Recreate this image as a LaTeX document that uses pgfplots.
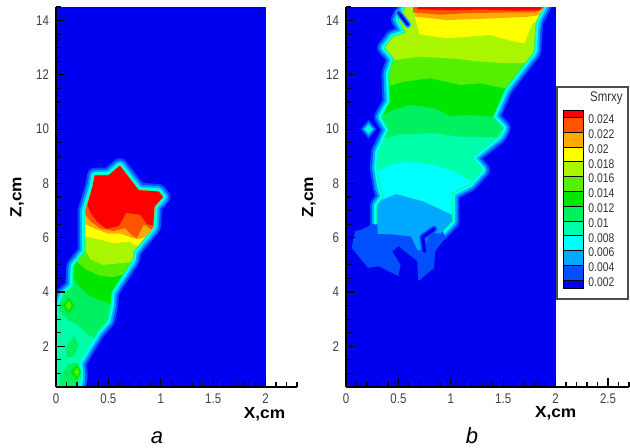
\documentclass[border=0pt]{standalone}
\usepackage{fontspec}
\setmainfont{Liberation Sans}
\newfontfamily\tickfont[FakeStretch=0.82]{Liberation Sans}
\newfontfamily\labfont[FakeStretch=1.08]{Liberation Sans}
\usepackage{pgfplots}
\pgfplotsset{compat=1.18}

% contour levels, Tecplot style rainbow
\definecolor{lv0}{HTML}{0000F0}
\definecolor{lv1}{HTML}{0050FF}
\definecolor{lv2}{HTML}{00A8FF}
\definecolor{lv3}{HTML}{00FFFF}
\definecolor{lv4}{HTML}{00FFAA}
\definecolor{lv5}{HTML}{00F060}
\definecolor{lv6}{HTML}{00E600}
\definecolor{lv7}{HTML}{55F000}
\definecolor{lv8}{HTML}{AAF500}
\definecolor{lv9}{HTML}{FFFF00}
\definecolor{lv10}{HTML}{FFAA00}
\definecolor{lv11}{HTML}{FF5500}
\definecolor{lv12}{HTML}{FF0000}

\pgfplotsset{
  panel/.style={
    x=52.4pt, y=13.57pt, xmin=0, ymin=0.5, ymax=14.5,
    axis x line*=bottom, axis y line*=left,
    axis line style={black, line width=0.8pt},
    axis on top, clip mode=individual,
    tick align=inside,
    ytick={2,4,...,14}, minor ytick={0.5,1,...,14.5},
    major tick length=4.5pt, minor tick length=2.6pt,
    tick style={black, line width=0.6pt},
    tick label style={font=\tickfont\fontsize{7}{8}\selectfont, text=black!75},
    /pgf/number format/assume math mode=true,
    label style={font=\labfont\bfseries\fontsize{8}{9}\selectfont},
    xlabel={X,cm}, ylabel={Z,cm},
  },
  band/.style={draw=#1, fill=none, line join=round, line cap=round},
  zone/.style={fill=#1, draw=none},
}

\begin{document}
\begin{tikzpicture}
\useasboundingbox (0,0) rectangle (315pt,223.5pt);

% ---------------- panel a ----------------
\begin{axis}[panel, at={(28pt,30pt)}, anchor=south west,
    xmax=2.3, xtick={0,0.5,1,1.5,2}, minor xtick={0,0.1,...,2.3},
    xlabel style={at={(axis description cs:0.865,-0.071)}, anchor=center},
    ylabel style={at={(axis description cs:-0.161,0.5)}, anchor=center}]
\addplot[zone=lv0] coordinates {(0,0.5) (2,0.5) (2,14.5) (0,14.5)} -- cycle;
% graded rim of the plume
\addplot[band=lv1, line width=7.6pt] coordinates {(0.21,0.3) (0.23,0.9) (0.22,1.4) (0.31,2.0) (0.40,2.55) (0.49,2.95) (0.52,3.5) (0.53,4.0) (0.73,5.2) (0.74,5.5) (0.93,6.4) (0.94,7.15) (1.02,7.5) (0.98,7.7) (0.79,7.75) (0.61,8.65) (0.5,8.3) (0.37,8.3) (0.35,7.9) (0.28,7.0) (0.28,5.5) (0.17,4.95) (0.16,4.2) (0.07,3.9) (0.03,3.5) (0.03,0.3)} -- cycle;
\addplot[band=lv2, line width=5.4pt] coordinates {(0.21,0.3) (0.23,0.9) (0.22,1.4) (0.31,2.0) (0.40,2.55) (0.49,2.95) (0.52,3.5) (0.53,4.0) (0.73,5.2) (0.74,5.5) (0.93,6.4) (0.94,7.15) (1.02,7.5) (0.98,7.7) (0.79,7.75) (0.61,8.65) (0.5,8.3) (0.37,8.3) (0.35,7.9) (0.28,7.0) (0.28,5.5) (0.17,4.95) (0.16,4.2) (0.07,3.9) (0.03,3.5) (0.03,0.3)} -- cycle;
\addplot[band=lv3, line width=3.2pt] coordinates {(0.21,0.3) (0.23,0.9) (0.22,1.4) (0.31,2.0) (0.40,2.55) (0.49,2.95) (0.52,3.5) (0.53,4.0) (0.73,5.2) (0.74,5.5) (0.93,6.4) (0.94,7.15) (1.02,7.5) (0.98,7.7) (0.79,7.75) (0.61,8.65) (0.5,8.3) (0.37,8.3) (0.35,7.9) (0.28,7.0) (0.28,5.5) (0.17,4.95) (0.16,4.2) (0.07,3.9) (0.03,3.5) (0.03,0.3)} -- cycle;
\addplot[band=lv4, line width=1.2pt] coordinates {(0.21,0.3) (0.23,0.9) (0.22,1.4) (0.31,2.0) (0.40,2.55) (0.49,2.95) (0.52,3.5) (0.53,4.0) (0.73,5.2) (0.74,5.5) (0.93,6.4) (0.94,7.15) (1.02,7.5) (0.98,7.7) (0.79,7.75) (0.61,8.65) (0.5,8.3) (0.37,8.3) (0.35,7.9) (0.28,7.0) (0.28,5.5) (0.17,4.95) (0.16,4.2) (0.07,3.9) (0.03,3.5) (0.03,0.3)} -- cycle;
% filled levels
\addplot[zone=lv4] coordinates {(0.21,0.3) (0.23,0.9) (0.22,1.4) (0.31,2.0) (0.40,2.55) (0.49,2.95) (0.52,3.5) (0.53,4.0) (0.73,5.2) (0.74,5.5) (0.93,6.4) (0.94,7.15) (1.02,7.5) (0.98,7.7) (0.79,7.75) (0.61,8.65) (0.5,8.3) (0.37,8.3) (0.35,7.9) (0.28,7.0) (0.28,5.5) (0.17,4.95) (0.16,4.2) (0.07,3.9) (0.03,3.5) (0.03,0.3)} -- cycle;
\addplot[zone=lv5] coordinates {(0.03,3.3) (0.12,2.95) (0.2,2.8) (0.3,2.45) (0.36,2.3) (0.40,2.55) (0.49,2.95) (0.52,3.5) (0.53,4.0) (0.73,5.2) (0.74,5.5) (0.93,6.4) (0.94,7.15) (1.02,7.5) (0.98,7.7) (0.79,7.75) (0.61,8.65) (0.5,8.3) (0.37,8.3) (0.35,7.9) (0.28,7.0) (0.28,5.5) (0.17,4.95) (0.16,4.2) (0.07,3.9) (0.03,3.5)} -- cycle;
\addplot[zone=lv5] coordinates {(0.03,0.3) (0.2,0.3) (0.22,0.9) (0.21,1.4) (0.12,1.35) (0.05,0.95)} -- cycle;
\addplot[zone=lv5] coordinates {(0.1,1.6) (0.16,1.6) (0.22,2.0) (0.17,2.4) (0.1,2.0)} -- cycle;
\addplot[zone=lv6] coordinates {(0.14,1.05) (0.2,0.75) (0.24,1.05) (0.2,1.35)} -- cycle;
\addplot[zone=lv7] coordinates {(0.17,1.05) (0.2,0.9) (0.225,1.05) (0.2,1.2)} -- cycle;
\addplot[zone=lv6] coordinates {(0.06,3.5) (0.12,3.2) (0.18,3.5) (0.12,3.8)} -- cycle;
\addplot[zone=lv7] coordinates {(0.09,3.5) (0.12,3.33) (0.15,3.5) (0.12,3.67)} -- cycle;
\addplot[zone=lv6] coordinates {(0.165,4.6) (0.2,4.3) (0.3,3.9) (0.42,3.7) (0.52,3.55) (0.53,4.0) (0.73,5.2) (0.74,5.5) (0.93,6.4) (0.94,7.15) (1.02,7.5) (0.98,7.7) (0.79,7.75) (0.61,8.65) (0.5,8.3) (0.37,8.3) (0.35,7.9) (0.28,7.0) (0.28,5.5) (0.17,4.95)} -- cycle;
\addplot[zone=lv7] coordinates {(0.2,5.1) (0.3,4.8) (0.42,4.6) (0.55,4.55) (0.64,4.65) (0.73,5.2) (0.74,5.5) (0.93,6.4) (0.94,7.15) (1.02,7.5) (0.98,7.7) (0.79,7.75) (0.61,8.65) (0.5,8.3) (0.37,8.3) (0.35,7.9) (0.28,7.0) (0.28,5.5)} -- cycle;
\addplot[zone=lv8] coordinates {(0.28,5.55) (0.33,5.2) (0.45,5.0) (0.58,5.05) (0.71,5.1) (0.73,5.2) (0.74,5.5) (0.93,6.4) (0.94,7.15) (1.02,7.5) (0.98,7.7) (0.79,7.75) (0.61,8.65) (0.5,8.3) (0.37,8.3) (0.35,7.9) (0.28,7.0)} -- cycle;
\addplot[zone=lv9] coordinates {(0.28,6.05) (0.4,5.95) (0.55,5.8) (0.7,5.85) (0.78,5.7) (0.93,6.4) (0.94,7.15) (1.02,7.5) (0.98,7.7) (0.79,7.75) (0.61,8.65) (0.5,8.3) (0.37,8.3) (0.35,7.9) (0.28,7.0)} -- cycle;
\addplot[zone=lv10] coordinates {(0.28,6.5) (0.36,6.35) (0.5,6.15) (0.62,6.15) (0.72,6.0) (0.8,5.95) (0.86,6.05) (0.93,6.4) (0.94,7.15) (1.02,7.5) (0.98,7.7) (0.79,7.75) (0.61,8.65) (0.5,8.3) (0.37,8.3) (0.35,7.9) (0.28,7.0)} -- cycle;
\addplot[zone=lv11] coordinates {(0.28,6.85) (0.33,6.6) (0.42,6.35) (0.55,6.25) (0.66,6.35) (0.72,6.1) (0.77,5.98) (0.8,6.2) (0.84,6.5) (0.91,6.3) (0.93,6.4) (0.94,7.15) (1.02,7.5) (0.98,7.7) (0.79,7.75) (0.61,8.65) (0.5,8.3) (0.37,8.3) (0.35,7.9) (0.28,7.0)} -- cycle;
\addplot[zone=lv12] coordinates {(0.30,7.2) (0.33,6.92) (0.39,6.6) (0.48,6.33) (0.6,6.43) (0.67,6.92) (0.8,6.85) (0.87,6.5) (0.925,6.45) (0.94,7.15) (1.02,7.5) (0.98,7.7) (0.79,7.75) (0.61,8.65) (0.5,8.3) (0.37,8.3) (0.35,7.9)} -- cycle;
\node[font=\itshape\fontsize{11}{12}\selectfont, anchor=base] at (axis description cs:0.419,-0.1476) {a};
\end{axis}

% ---------------- panel b ----------------
\begin{axis}[panel, at={(173pt,30pt)}, anchor=south west,
    xmax=2.7, xtick={0,0.5,1,1.5,2,2.5}, minor xtick={0,0.1,...,2.7},
    xlabel style={at={(axis description cs:0.741,-0.0685)}, anchor=center},
    ylabel style={at={(axis description cs:-0.131,0.5)}, anchor=center}]
\addplot[zone=lv0] coordinates {(0,0.5) (2,0.5) (2,14.5) (0,14.5)} -- cycle;
% graded rim of the plume
\addplot[band=lv1, line width=7.6pt] coordinates {(0.62,14.8) (1.92,14.8) (1.81,13.96) (1.79,12.85) (1.52,11.5) (1.40,10.45) (1.50,10.04) (1.46,9.75) (1.20,8.95) (1.30,8.5) (1.18,7.98) (1.01,7.65) (1.01,6.6) (0.90,6.15) (0.80,6.2) (0.74,5.55) (0.68,5.55) (0.62,6.05) (0.45,6.12) (0.30,6.15) (0.30,7.2) (0.36,7.5) (0.33,7.83) (0.30,8.55) (0.31,9.15) (0.41,9.98) (0.34,10.45) (0.42,11.0) (0.41,12.05) (0.46,12.6) (0.37,13.0) (0.45,13.4) (0.57,13.55) (0.50,14.05)} -- cycle;
\addplot[band=lv2, line width=5.4pt] coordinates {(0.62,14.8) (1.92,14.8) (1.81,13.96) (1.79,12.85) (1.52,11.5) (1.40,10.45) (1.50,10.04) (1.46,9.75) (1.20,8.95) (1.30,8.5) (1.18,7.98) (1.01,7.65) (1.01,6.6) (0.90,6.15) (0.80,6.2) (0.74,5.55) (0.68,5.55) (0.62,6.05) (0.45,6.12) (0.30,6.15) (0.30,7.2) (0.36,7.5) (0.33,7.83) (0.30,8.55) (0.31,9.15) (0.41,9.98) (0.34,10.45) (0.42,11.0) (0.41,12.05) (0.46,12.6) (0.37,13.0) (0.45,13.4) (0.57,13.55) (0.50,14.05)} -- cycle;
\addplot[band=lv3, line width=3.2pt] coordinates {(0.62,14.8) (1.92,14.8) (1.81,13.96) (1.79,12.85) (1.52,11.5) (1.40,10.45) (1.50,10.04) (1.46,9.75) (1.20,8.95) (1.30,8.5) (1.18,7.98) (1.01,7.65) (1.01,6.6) (0.90,6.15) (0.80,6.2) (0.74,5.55) (0.68,5.55) (0.62,6.05) (0.45,6.12) (0.30,6.15) (0.30,7.2) (0.36,7.5) (0.33,7.83) (0.30,8.55) (0.31,9.15) (0.41,9.98) (0.34,10.45) (0.42,11.0) (0.41,12.05) (0.46,12.6) (0.37,13.0) (0.45,13.4) (0.57,13.55) (0.50,14.05)} -- cycle;
\addplot[band=lv4, line width=1.2pt] coordinates {(0.62,14.8) (1.92,14.8) (1.81,13.96) (1.79,12.85) (1.52,11.5) (1.40,10.45) (1.50,10.04) (1.46,9.75) (1.20,8.95) (1.30,8.5) (1.18,7.98) (1.01,7.65) (1.01,6.6) (0.90,6.15) (0.80,6.2) (0.74,5.55) (0.68,5.55) (0.62,6.05) (0.45,6.12) (0.30,6.15) (0.30,7.2) (0.36,7.5) (0.33,7.83) (0.30,8.55) (0.31,9.15) (0.41,9.98) (0.34,10.45) (0.42,11.0) (0.41,12.05) (0.46,12.6) (0.37,13.0) (0.45,13.4) (0.57,13.55) (0.50,14.05)} -- cycle;
% low level foot of the plume
\addplot[zone=lv1] coordinates {(0.086,6.24) (0.054,5.63) (0.21,4.89) (0.31,4.95) (0.50,4.59) (0.52,5.0) (0.44,5.5) (0.50,5.69) (0.68,5.14) (0.69,4.4) (0.84,4.89) (0.85,5.5) (0.95,6.0) (0.9,6.45) (0.5,6.45) (0.25,6.5) (0.15,6.3)} -- cycle;
% filled levels
\addplot[zone=lv2] coordinates {(0.62,14.8) (1.92,14.8) (1.81,13.96) (1.79,12.85) (1.52,11.5) (1.40,10.45) (1.50,10.04) (1.46,9.75) (1.20,8.95) (1.30,8.5) (1.18,7.98) (1.01,7.65) (1.01,6.6) (0.90,6.15) (0.80,6.2) (0.74,5.55) (0.68,5.55) (0.62,6.05) (0.45,6.12) (0.30,6.15) (0.30,7.2) (0.36,7.5) (0.33,7.83) (0.30,8.55) (0.31,9.15) (0.41,9.98) (0.34,10.45) (0.42,11.0) (0.41,12.05) (0.46,12.6) (0.37,13.0) (0.45,13.4) (0.57,13.55) (0.50,14.05)} -- cycle;
\addplot[zone=lv3] coordinates {(0.345,7.4) (0.48,7.61) (0.74,7.34) (1.01,6.85) (1.01,7.65) (1.18,7.98) (1.30,8.5) (1.20,8.95) (1.46,9.75) (1.50,10.04) (1.40,10.45) (1.52,11.5) (1.79,12.85) (1.81,13.96) (1.92,14.8) (0.62,14.8) (0.50,14.05) (0.57,13.55) (0.45,13.4) (0.37,13.0) (0.46,12.6) (0.41,12.05) (0.42,11.0) (0.34,10.45) (0.41,9.98) (0.31,9.15) (0.30,8.55) (0.33,7.83) (0.36,7.5)} -- cycle;
\addplot[zone=lv4] coordinates {(0.30,8.45) (0.42,8.69) (0.58,8.81) (0.84,8.69) (1.03,8.45) (1.20,8.08) (1.30,8.5) (1.20,8.95) (1.46,9.75) (1.50,10.04) (1.40,10.45) (1.52,11.5) (1.79,12.85) (1.81,13.96) (1.92,14.8) (0.62,14.8) (0.50,14.05) (0.57,13.55) (0.45,13.4) (0.37,13.0) (0.46,12.6) (0.41,12.05) (0.42,11.0) (0.34,10.45) (0.41,9.98) (0.31,9.15) (0.30,8.55)} -- cycle;
\addplot[zone=lv5] coordinates {(0.37,9.67) (0.52,9.8) (0.84,9.86) (1.06,9.73) (1.44,9.7) (1.50,10.04) (1.40,10.45) (1.52,11.5) (1.79,12.85) (1.81,13.96) (1.92,14.8) (0.62,14.8) (0.50,14.05) (0.57,13.55) (0.45,13.4) (0.37,13.0) (0.46,12.6) (0.41,12.05) (0.42,11.0) (0.34,10.45) (0.41,9.98)} -- cycle;
\addplot[zone=lv6] coordinates {(0.36,10.55) (0.45,10.7) (0.61,10.9) (0.84,10.77) (1.0,10.47) (1.15,10.53) (1.40,10.45) (1.52,11.5) (1.79,12.85) (1.81,13.96) (1.92,14.8) (0.62,14.8) (0.50,14.05) (0.57,13.55) (0.45,13.4) (0.37,13.0) (0.46,12.6) (0.41,12.05) (0.42,11.0)} -- cycle;
\addplot[zone=lv7] coordinates {(0.415,11.6) (0.55,11.75) (0.8,11.88) (1.09,11.63) (1.28,11.69) (1.52,11.5) (1.79,12.85) (1.81,13.96) (1.92,14.8) (0.62,14.8) (0.50,14.05) (0.57,13.55) (0.45,13.4) (0.37,13.0) (0.46,12.6) (0.41,12.05)} -- cycle;
\addplot[zone=lv8] coordinates {(0.455,12.55) (0.71,12.67) (1.03,12.6) (1.25,12.5) (1.54,12.43) (1.71,12.45) (1.79,12.85) (1.81,13.96) (1.92,14.8) (0.62,14.8) (0.50,14.05) (0.57,13.55) (0.45,13.4) (0.37,13.0) (0.46,12.6)} -- cycle;
\addplot[zone=lv9] coordinates {(0.70,13.5) (0.96,13.35) (1.38,13.47) (1.54,13.29) (1.70,13.16) (1.78,13.9) (1.81,13.96) (1.92,14.8) (0.66,14.8) (0.66,14.1)} -- cycle;
\addplot[zone=lv10] coordinates {(0.66,14.15) (0.96,14.02) (1.38,14.08) (1.73,14.14) (1.84,14.2) (1.92,14.8) (0.66,14.8)} -- cycle;
\addplot[zone=lv11] coordinates {(0.64,14.3) (0.9,14.22) (1.2,14.28) (1.5,14.3) (1.8,14.3) (1.88,14.45) (1.92,14.8) (0.64,14.8)} -- cycle;
\addplot[zone=lv12] coordinates {(0.68,14.42) (1.0,14.38) (1.3,14.41) (1.6,14.37) (1.85,14.38) (1.92,14.8) (0.7,14.8)} -- cycle;
% notches and the isolated spot
\addplot[band=lv2, line width=3.2pt] coordinates {(0.50,14.3) (0.59,13.85)};
\addplot[band=lv0, line width=1.5pt] coordinates {(0.50,14.3) (0.59,13.85)};
\addplot[band=lv1, line width=3.2pt] coordinates {(0.84,6.32) (0.73,6.02) (0.75,5.5)};
\addplot[band=lv0, line width=1.6pt] coordinates {(0.84,6.32) (0.73,6.02) (0.75,5.5)};
\addplot[zone=lv1] coordinates {(0.14,10.0) (0.215,9.65) (0.29,10.0) (0.215,10.35)} -- cycle;
\addplot[zone=lv2] coordinates {(0.16,10.0) (0.215,9.75) (0.27,10.0) (0.215,10.25)} -- cycle;
\addplot[zone=lv3] coordinates {(0.18,10.0) (0.215,9.85) (0.25,10.0) (0.215,10.15)} -- cycle;
\addplot[zone=lv4] coordinates {(0.2,10.0) (0.215,9.93) (0.23,10.0) (0.215,10.07)} -- cycle;
\node[font=\itshape\fontsize{11}{12}\selectfont, anchor=base] at (axis description cs:0.445,-0.1476) {b};
\end{axis}

% ---------------- level key ----------------
\begin{axis}[at={(278.5pt,74pt)}, anchor=south west,
    x=0.5pt, y=0.5pt, xmin=557, xmax=628, ymin=-299, ymax=-87,
    ticks=none, clip=false,
    axis line style={draw=black!70, line width=0.8pt},
    axis background/.style={fill=white}]
\addplot[fill=lv12, draw=black, line width=0.4pt] coordinates {(563,-117.3) (583,-117.3) (583,-110.7) (563,-110.7)} -- cycle;
\addplot[fill=lv11, draw=black, line width=0.4pt] coordinates {(563,-132.1) (583,-132.1) (583,-117.3) (563,-117.3)} -- cycle;
\addplot[fill=lv10, draw=black, line width=0.4pt] coordinates {(563,-146.9) (583,-146.9) (583,-132.1) (563,-132.1)} -- cycle;
\addplot[fill=lv9, draw=black, line width=0.4pt] coordinates {(563,-161.7) (583,-161.7) (583,-146.9) (563,-146.9)} -- cycle;
\addplot[fill=lv8, draw=black, line width=0.4pt] coordinates {(563,-176.5) (583,-176.5) (583,-161.7) (563,-161.7)} -- cycle;
\addplot[fill=lv7, draw=black, line width=0.4pt] coordinates {(563,-191.3) (583,-191.3) (583,-176.5) (563,-176.5)} -- cycle;
\addplot[fill=lv6, draw=black, line width=0.4pt] coordinates {(563,-206.1) (583,-206.1) (583,-191.3) (563,-191.3)} -- cycle;
\addplot[fill=lv5, draw=black, line width=0.4pt] coordinates {(563,-220.9) (583,-220.9) (583,-206.1) (563,-206.1)} -- cycle;
\addplot[fill=lv4, draw=black, line width=0.4pt] coordinates {(563,-235.7) (583,-235.7) (583,-220.9) (563,-220.9)} -- cycle;
\addplot[fill=lv3, draw=black, line width=0.4pt] coordinates {(563,-250.5) (583,-250.5) (583,-235.7) (563,-235.7)} -- cycle;
\addplot[fill=lv2, draw=black, line width=0.4pt] coordinates {(563,-265.3) (583,-265.3) (583,-250.5) (563,-250.5)} -- cycle;
\addplot[fill=lv1, draw=black, line width=0.4pt] coordinates {(563,-280.1) (583,-280.1) (583,-265.3) (563,-265.3)} -- cycle;
\addplot[fill=lv0, draw=black, line width=0.4pt] coordinates {(563,-288.7) (583,-288.7) (583,-280.1) (563,-280.1)} -- cycle;
\begin{scope}[every node/.style={anchor=west, inner sep=0pt, text=black!80, font=\tickfont\fontsize{6.3}{7}\selectfont}]
\node at (axis cs:588,-119.3) {0.024};
\node at (axis cs:588,-134.1) {0.022};
\node at (axis cs:588,-148.9) {0.02};
\node at (axis cs:588,-163.7) {0.018};
\node at (axis cs:588,-178.5) {0.016};
\node at (axis cs:588,-193.3) {0.014};
\node at (axis cs:588,-208.1) {0.012};
\node at (axis cs:588,-222.9) {0.01};
\node at (axis cs:588,-237.7) {0.008};
\node at (axis cs:588,-252.5) {0.006};
\node at (axis cs:588,-267.3) {0.004};
\node at (axis cs:588,-282.1) {0.002};
\end{scope}
\node[anchor=east, inner sep=0pt, font=\tickfont\fontsize{7}{8}\selectfont, text=black!80] at (axis cs:623,-98) {Smrxy};
\end{axis}
\end{tikzpicture}
\end{document}
